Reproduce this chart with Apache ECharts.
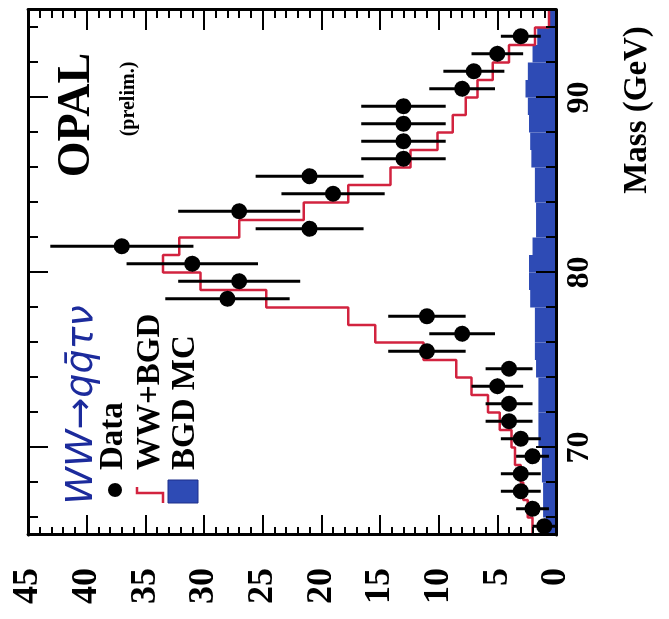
<!DOCTYPE html>
<html><head><meta charset="utf-8">
<script src="https://cdn.jsdelivr.net/npm/echarts@6.0.0/dist/echarts.min.js"></script>
<style>
html,body{margin:0;padding:0;background:#fff;overflow:hidden;width:669px;height:619px;}
#chart{position:absolute;left:0;top:0;width:619px;height:669px;transform-origin:0 0;transform:translate(0,619px) rotate(-90deg);}
</style></head><body><div id="chart"></div>
<script>
// Histogram bin centres (GeV), 1 GeV bins from 65 to 95
const massBins = [65.5,66.5,67.5,68.5,69.5,70.5,71.5,72.5,73.5,74.5,75.5,76.5,77.5,78.5,79.5,80.5,81.5,82.5,83.5,84.5,85.5,86.5,87.5,88.5,89.5,90.5,91.5,92.5,93.5,94.5];
// WW+BGD prediction (red step line)
const wwbgd = [2.0,2.4,2.8,3.0,3.5,3.8,4.8,5.8,7.2,8.5,11.3,15.4,17.7,24.7,30.3,33.5,32.1,27.0,21.5,17.7,14.1,12.4,10.1,8.8,7.7,6.7,5.4,4.0,1.8,0.6];
// BGD MC (blue filled histogram)
const bgdMC = [0.9,1.1,1.1,1.2,1.2,1.5,1.5,1.5,1.5,1.7,1.8,1.8,1.8,2.2,2.3,2.3,2.0,1.7,1.7,1.8,1.8,2.1,2.2,2.3,2.4,2.6,2.4,2.0,1.6,0.6];
// Data points
const dataMass = [65.5,66.5,67.5,68.5,69.5,70.5,71.5,72.5,73.5,74.5,75.5,76.5,77.5,78.5,79.5,80.5,81.5,82.5,83.5,84.5,85.5,86.5,87.5,88.5,89.5,90.5,91.5,92.5,93.5];
const dataCount = [1,2,3,3,2,3,4,4,5,4,11,8,11,28,27,31,37,21,27,19,21,13,13,13,13,8,7,5,3];
const dataErr = [1.0,1.4,1.7,1.7,1.4,1.7,2.0,2.0,2.2,2.0,3.3,2.8,3.3,5.3,5.2,5.6,6.1,4.6,5.2,4.4,4.6,3.6,3.6,3.6,3.6,2.8,2.6,2.2,1.7];
// Axis ticks
const massMajor = [70,80,90];
const massMinor = [66,68,72,74,76,78,82,84,86,88,92,94];
const massMin = 65, massMax = 95, countMin = 0, countMax = 45, countStep = 5;
const binWidth = 1;

const FONT = '"Liberation Serif","Times New Roman",serif';
const BLACK = '#000';
const RED = '#d2233f';
const BLUE = '#2e4bb5';

const chart = echarts.init(document.getElementById('chart'), null, {renderer:'canvas'});

function massAxis(pos, ticks, len, showLine, showLabel){
  return {
    type:'value', position:pos, min:massMin, max:massMax, z:10,
    axisLine:{show:showLine, onZero:false, lineStyle:{color:BLACK, width:3}},
    axisTick:{show:true, inside:true, length:len, customValues:ticks, lineStyle:{color:BLACK, width:2}},
    axisLabel:showLabel ? {show:true, customValues:ticks, margin:8, fontSize:32, fontWeight:'bold', fontFamily:FONT, color:BLACK} : {show:false},
    splitLine:{show:false}
  };
}
function countAxis(pos, showLabel){
  return {
    type:'value', position:pos, min:countMin, max:countMax, interval:countStep, z:10,
    axisLine:{show:true, onZero:false, lineStyle:{color:BLACK, width:3}},
    axisTick:{show:true, inside:true, length:20, lineStyle:{color:BLACK, width:2}},
    minorTick:{show:true, splitNumber:5, length:8, lineStyle:{color:BLACK, width:2}},
    axisLabel:showLabel ? {show:true, margin:33, fontSize:36, fontWeight:'bold', fontFamily:FONT, color:BLACK} : {show:false},
    splitLine:{show:false}, minorSplitLine:{show:false}
  };
}

const stepData = massBins.map((m,i)=>[m-binWidth/2, wwbgd[i]]);
stepData.push([massBins[massBins.length-1]+binWidth/2, wwbgd[wwbgd.length-1]]);

const option = {
  backgroundColor:'#fff',
  animation:false,
  grid:{left:84, right:10, top:28, bottom:113, containLabel:false, outerBoundsMode:'none'},
  xAxis:[
    massAxis('bottom', massMajor, 20, true, true),
    massAxis('bottom', massMinor, 10, false, false),
    massAxis('top', massMajor, 20, true, false),
    massAxis('top', massMinor, 10, false, false)
  ],
  yAxis:[countAxis('left', true), countAxis('right', false)],
  series:[
    {
      name:'BGD MC', type:'custom', xAxisIndex:0, yAxisIndex:0, z:1,
      data:massBins.map((m,i)=>[m, bgdMC[i]]),
      encode:{x:0, y:1},
      renderItem:function(params, api){
        const m = api.value(0), v = api.value(1);
        const p0 = api.coord([m-binWidth/2, 0]);
        const p1 = api.coord([m+binWidth/2, v]);
        return {type:'rect', shape:{x:p0[0], y:p1[1], width:p1[0]-p0[0], height:p0[1]-p1[1]},
          style:{fill:BLUE}};
      }
    },
    {
      name:'WW+BGD', type:'line', xAxisIndex:0, yAxisIndex:0, z:2,
      data:stepData, step:'end', symbol:'none',
      lineStyle:{color:RED, width:2.5}
    },
    {
      name:'Data errors', type:'custom', xAxisIndex:0, yAxisIndex:0, z:3,
      data:dataMass.map((m,i)=>[m, dataCount[i]-dataErr[i], dataCount[i]+dataErr[i]]),
      encode:{x:0, y:[1,2]},
      renderItem:function(params, api){
        const m = api.value(0);
        const a = api.coord([m, Math.max(api.value(1), 0)]);
        const b = api.coord([m, api.value(2)]);
        return {type:'line', shape:{x1:a[0], y1:a[1], x2:b[0], y2:b[1]},
          style:{stroke:BLACK, lineWidth:3}};
      }
    },
    {
      name:'Data', type:'scatter', xAxisIndex:0, yAxisIndex:0, z:4,
      data:dataMass.map((m,i)=>[m, dataCount[i]]),
      symbol:'circle', symbolSize:16,
      itemStyle:{color:BLACK, opacity:1}
    }
  ],
  graphic:[
    {type:'text', x:504, y:77, style:{text:'OPAL', font:'bold 46px '+FONT, fill:BLACK, align:'center', verticalAlign:'middle'}},
    {type:'text', x:520, y:129, style:{text:'(prelim.)', font:'bold 20px '+FONT, fill:BLACK, align:'center', verticalAlign:'middle'}},
    {type:'text', x:214, y:82, style:{text:'WW\u2192qq\u0304\u03c4\u03bd', font:'italic 38px "DejaVu Sans", sans-serif', fill:'#1c2b9c', align:'center', verticalAlign:'middle'}},
    {type:'circle', shape:{cx:129, cy:115, r:7}, style:{fill:BLACK}},
    {type:'text', x:149, y:113, style:{text:'Data', font:'bold 33px '+FONT, fill:BLACK, align:'left', verticalAlign:'middle'}},
    {type:'polyline', shape:{points:[[116,163],[126,163],[126,137],[132,137]]}, style:{stroke:RED, lineWidth:2.5, fill:null}},
    {type:'text', x:149, y:150, style:{text:'WW+BGD', font:'bold 33px '+FONT, fill:BLACK, align:'left', verticalAlign:'middle'}},
    {type:'rect', shape:{x:116, y:168, width:23, height:30}, style:{fill:BLUE, stroke:'#1c2e8a', lineWidth:1}},
    {type:'text', x:149, y:185, style:{text:'BGD MC', font:'bold 33px '+FONT, fill:BLACK, align:'left', verticalAlign:'middle'}},
    {type:'text', x:509, y:637, style:{text:'Mass (GeV)', font:'bold 33px '+FONT, fill:BLACK, align:'center', verticalAlign:'middle'}}
  ]
};
chart.setOption(option);
</script>
</body></html>
